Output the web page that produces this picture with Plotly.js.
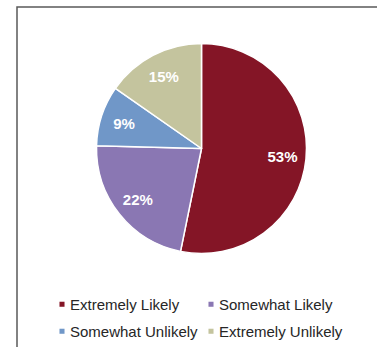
<!DOCTYPE html>
<html>
<head>
<meta charset="utf-8">
<script src="https://cdn.plot.ly/plotly-3.0.1.min.js"></script>
<style>
html,body{margin:0;padding:0;background:#fff;}
#chart{width:377px;height:347px;}
</style>
</head>
<body>
<div id="chart"></div>
<script>
const categories = ["Extremely Likely", "Somewhat Likely", "Somewhat Unlikely", "Extremely Unlikely"];
const shares = [53.2, 22.2, 9.3, 15.3];
const sliceColors = ["#841526", "#8a77b3", "#7097c8", "#c4c49e"];

const W = 377, H = 347;
const cx = 201.5, cy = 148.5, R = 105;
const dom = { x: [(cx - R) / W, (cx + R) / W], y: [1 - (cy + R) / H, 1 - (cy - R) / H] };
const labelFont = { family: "Liberation Sans, Arial, sans-serif", size: 15, color: "#ffffff", weight: "bold" };

// the pie itself
const pie = {
  type: "pie",
  labels: categories,
  values: shares,
  sort: false,
  direction: "clockwise",
  rotation: 0,
  marker: { colors: sliceColors, line: { color: "#ffffff", width: 1.5 } },
  textinfo: "none",
  hoverinfo: "none",
  domain: dom
};

// transparent ring on top, only to place the percentage labels toward the rim
const labelRing = {
  type: "pie",
  labels: categories,
  values: shares,
  sort: false,
  direction: "clockwise",
  rotation: 0,
  hole: 0.55,
  showlegend: false,
  marker: { colors: categories.map(function () { return "rgba(0,0,0,0)"; }), line: { width: 0 } },
  texttemplate: "%{percent:.0%}",
  textposition: "inside",
  insidetextorientation: "horizontal",
  textfont: labelFont,
  hoverinfo: "none",
  domain: dom
};

const layout = {
  width: W, height: H,
  margin: { l: 0, r: 0, t: 0, b: 0, autoexpand: false },
  paper_bgcolor: "#ffffff",
  plot_bgcolor: "#ffffff",
  showlegend: true,
  legend: {
    orientation: "h",
    x: 30 / W, xanchor: "left",
    y: 1 - 288 / H, yanchor: "top",
    entrywidth: 104, entrywidthmode: "pixels",
    font: { family: "Liberation Sans, Arial, sans-serif", size: 15, color: "#262626" },
    traceorder: "normal"
  },
  shapes: [
    { type: "path", xref: "paper", yref: "paper",
      path: "M " + (17 / W) + " 0 L " + (17 / W) + " " + (1 - 7 / H) + " L 1 " + (1 - 7 / H),
      line: { color: "#595959", width: 1.5 } }
  ]
};

Plotly.newPlot("chart", [pie, labelRing], layout, { displayModeBar: false, staticPlot: true }).then(function (gd) {
  // legend styling like the reference: small swatches, tight gap, looser rows, no clipping
  gd.querySelectorAll(".legend, .legend *").forEach(function (el) {
    if (el.hasAttribute("clip-path")) el.removeAttribute("clip-path");
  });
  const items = gd.querySelectorAll(".legend g.traces");
  const ys = [];
  items.forEach(function (g) {
    const m = /translate\(([-\d.]+),\s*([-\d.]+)\)/.exec(g.getAttribute("transform") || "");
    if (m && ys.indexOf(+m[2]) < 0) ys.push(+m[2]);
  });
  ys.sort(function (a, b) { return a - b; });
  items.forEach(function (g) {
    const pts = g.querySelector(".legendpoints");
    if (pts) pts.setAttribute("transform", "translate(12,0)");
    g.querySelectorAll(".legendpoints path").forEach(function (p) {
      const t = p.getAttribute("transform") || "";
      p.setAttribute("transform", t + " scale(0.42)");
      p.style.strokeWidth = "0";
    });
    const m = /translate\(([-\d.]+),\s*([-\d.]+)\)/.exec(g.getAttribute("transform") || "");
    if (m) {
      const row = ys.indexOf(+m[2]);
      g.setAttribute("transform", "translate(" + m[1] + "," + (+m[2] + row * 4.5) + ")");
    }
  });
});
</script>
</body>
</html>
